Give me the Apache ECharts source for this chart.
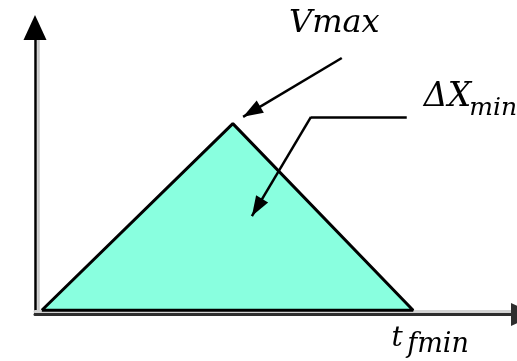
<!DOCTYPE html>
<html>
<head>
<meta charset="utf-8">
<script src="https://cdn.jsdelivr.net/npm/echarts@6/dist/echarts.min.js"></script>
<style>
    html, body { margin: 0; padding: 0; background: #fff; }
    #profile { width: 517px; height: 361px; }
</style>
</head>
<body>
<div id="profile"></div>
<script>
// triangular velocity profile: t (x) against v (y)
const tPoints = [1.4, 40.5, 77.4, 1.4];
const vPoints = [0, 66, 0, 0];

// annotation arrows, [t, v]
const vmaxArrow = [[62.8, 89.2], [42.6, 68.4]];
const dxLeader = [[76.1, 68.4], [56.5, 68.4], [44.4, 33.3]];

// text labels: [t, v, text, kind]
const labels = [
    [52.0, 101.2, 'Vmax', 'big'],
    [79.6, 75.3, 'ΔX', 'huge'],
    [88.9, 71.5, 'min', 'sub'],
    [73.0, -10.2, 't', 'mid'],
    [76.2, -12.3, 'fmin', 'sub2']
];

const fontSizes = { big: 32, huge: 33, sub: 25, mid: 28, sub2: 27 };

var chartDom = document.getElementById('profile');
var chart = echarts.init(chartDom, null, { renderer: 'canvas' });

const serif = '"DejaVu Serif", "Liberation Serif", serif';

var option = {
    animation: false,
    grid: { left: 35, right: -6.5, top: 27.5, bottom: 46.5, containLabel: false, outerBoundsMode: 'none' },
    xAxis: {
        type: 'value',
        min: 0,
        max: 100,
        axisLine: {
            show: true,
            onZero: false,
            symbol: ['none', 'triangle'],
            symbolSize: [23, 25],
            lineStyle: { color: '#2e2e2e', width: 3, shadowColor: '#d2d2d2', shadowOffsetY: -3, shadowBlur: 0.1 }
        },
        axisTick: { show: false },
        axisLabel: { show: false },
        splitLine: { show: false }
    },
    yAxis: {
        type: 'value',
        min: -1.5,
        max: 100,
        axisLine: {
            show: true,
            onZero: false,
            symbol: ['none', 'triangle'],
            symbolSize: [23, 25],
            lineStyle: { color: '#000', width: 2.5, shadowColor: '#c6c6c6', shadowOffsetX: 3, shadowBlur: 0.1 }
        },
        axisTick: { show: false },
        axisLabel: { show: false },
        splitLine: { show: false }
    },
    series: [
        {
            name: 'profile',
            type: 'line',
            data: tPoints.map((t, i) => [t, vPoints[i]]),
            symbol: 'none',
            silent: true,
            lineStyle: { color: '#000', width: 3 },
            areaStyle: { color: '#89ffdf', opacity: 1 },
            z: 3,
            markLine: {
                silent: true,
                animation: false,
                symbol: ['none', 'triangle'],
                symbolSize: [14, 20],
                label: { show: false },
                lineStyle: { color: '#000', width: 2.5, type: 'solid' },
                emphasis: { disabled: true },
                data: [
                    [{ coord: vmaxArrow[0] }, { coord: vmaxArrow[1], symbolOffset: [0, 10] }],
                    [{ coord: dxLeader[0], symbol: 'none' }, { coord: dxLeader[1], symbol: 'none' }],
                    [{ coord: dxLeader[1] }, { coord: dxLeader[2], symbolOffset: [0, 10] }]
                ]
            }
        },
        {
            name: 'labels',
            type: 'scatter',
            symbolSize: 0,
            clip: false,
            silent: true,
            itemStyle: { opacity: 1 },
            z: 5,
            data: labels.map(l => ({
                value: [l[0], l[1]],
                label: {
                    show: true,
                    position: 'inside',
                    align: 'left',
                    verticalAlign: 'middle',
                    formatter: l[2],
                    fontFamily: serif,
                    fontStyle: 'italic',
                    fontSize: fontSizes[l[3]],
                    color: '#000',
                    opacity: 1,
                    textBorderWidth: 0
                }
            }))
        }
    ]
};

option && chart.setOption(option);
</script>
</body>
</html>
